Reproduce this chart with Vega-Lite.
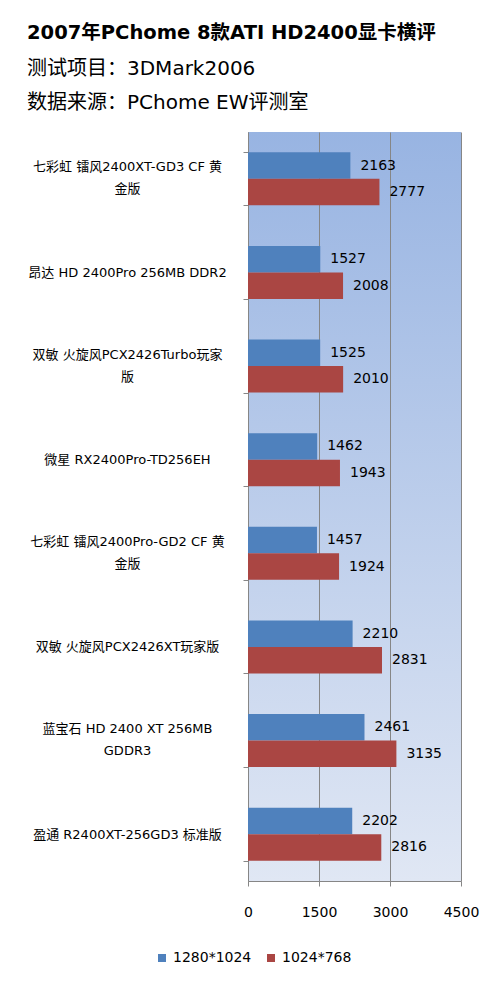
{
  "$schema": "https://vega.github.io/schema/vega-lite/v6.json",
  "autosize": "none",
  "width": 213,
  "height": 749,
  "padding": {"left": 248, "top": 132, "right": 32, "bottom": 106},
  "background": "#ffffff",
  "title": {
    "text": "2007年PChome 8款ATI HD2400显卡横评",
    "subtitle": ["测试项目：3DMark2006", "数据来源：PChome EW评测室"],
    "anchor": "start",
    "frame": "group",
    "dx": -221,
    "offset": 12,
    "font": "DejaVu Sans, Noto Sans CJK SC",
    "fontSize": 19.5,
    "fontWeight": "bold",
    "color": "#000000",
    "subtitleFont": "DejaVu Sans, Noto Sans CJK SC",
    "subtitleFontSize": 20,
    "subtitleColor": "#000000",
    "subtitleLineHeight": 34,
    "subtitlePadding": 16
  },
  "data": {
    "values": [
      {"card": "七彩虹 镭风2400XT-GD3 CF 黄金版", "res": "1280*1024", "score": 2163},
      {"card": "七彩虹 镭风2400XT-GD3 CF 黄金版", "res": "1024*768", "score": 2777},
      {"card": "昂达 HD 2400Pro 256MB DDR2", "res": "1280*1024", "score": 1527},
      {"card": "昂达 HD 2400Pro 256MB DDR2", "res": "1024*768", "score": 2008},
      {"card": "双敏 火旋风PCX2426Turbo玩家版", "res": "1280*1024", "score": 1525},
      {"card": "双敏 火旋风PCX2426Turbo玩家版", "res": "1024*768", "score": 2010},
      {"card": "微星 RX2400Pro-TD256EH", "res": "1280*1024", "score": 1462},
      {"card": "微星 RX2400Pro-TD256EH", "res": "1024*768", "score": 1943},
      {"card": "七彩虹 镭风2400Pro-GD2 CF 黄金版", "res": "1280*1024", "score": 1457},
      {"card": "七彩虹 镭风2400Pro-GD2 CF 黄金版", "res": "1024*768", "score": 1924},
      {"card": "双敏 火旋风PCX2426XT玩家版", "res": "1280*1024", "score": 2210},
      {"card": "双敏 火旋风PCX2426XT玩家版", "res": "1024*768", "score": 2831},
      {"card": "蓝宝石 HD 2400 XT 256MB GDDR3", "res": "1280*1024", "score": 2461},
      {"card": "蓝宝石 HD 2400 XT 256MB GDDR3", "res": "1024*768", "score": 3135},
      {"card": "盈通 R2400XT-256GD3 标准版", "res": "1280*1024", "score": 2202},
      {"card": "盈通 R2400XT-256GD3 标准版", "res": "1024*768", "score": 2816}
    ]
  },
  "encoding": {
    "y": {
      "field": "card",
      "type": "nominal",
      "sort": null,
      "scale": {"paddingInner": 0.434, "paddingOuter": 0.217},
      "axis": {
        "title": null,
        "tickBand": "extent",
        "tickSize": 5,
        "tickColor": "#868686",
        "domainColor": "#868686",
        "labelAlign": "center",
        "labelBaseline": "middle",
        "labelPadding": 116,
        "labelOffset": {
          "condition": {
            "test": "indexof(['七彩虹 镭风2400XT-GD3 CF 黄金版', '双敏 火旋风PCX2426Turbo玩家版', '七彩虹 镭风2400Pro-GD2 CF 黄金版', '蓝宝石 HD 2400 XT 256MB GDDR3'], datum.value) >= 0",
            "value": -12
          },
          "value": 0
        },
        "labelFont": "DejaVu Sans, Noto Sans CJK SC",
        "labelFontSize": 13,
        "labelColor": "#000000",
        "labelLineHeight": 22,
        "labelLimit": 300,
        "labelExpr": "datum.value == '七彩虹 镭风2400XT-GD3 CF 黄金版' ? ['七彩虹 镭风2400XT-GD3 CF 黄', '金版'] : datum.value == '双敏 火旋风PCX2426Turbo玩家版' ? ['双敏 火旋风PCX2426Turbo玩家', '版'] : datum.value == '七彩虹 镭风2400Pro-GD2 CF 黄金版' ? ['七彩虹 镭风2400Pro-GD2 CF 黄', '金版'] : datum.value == '蓝宝石 HD 2400 XT 256MB GDDR3' ? ['蓝宝石 HD 2400 XT 256MB', 'GDDR3'] : datum.value"
      }
    },
    "yOffset": {
      "field": "res",
      "type": "nominal",
      "sort": ["1280*1024", "1024*768"],
      "scale": {"paddingInner": 0, "paddingOuter": 0}
    },
    "x": {
      "field": "score",
      "type": "quantitative",
      "scale": {"domain": [0, 4500], "nice": false},
      "axis": {
        "title": null,
        "values": [0, 1500, 3000, 4500],
        "format": "d",
        "grid": true,
        "gridColor": "#868686",
        "gridOpacity": 1,
        "tickColor": "#868686",
        "tickSize": 5,
        "domainColor": "#868686",
        "labelFlush": false,
        "labelOverlap": false,
        "labelFont": "DejaVu Sans",
        "labelFontSize": 14,
        "labelColor": "#000000",
        "labelPadding": 19
      }
    }
  },
  "layer": [
    {
      "mark": {"type": "bar"},
      "encoding": {
        "color": {
          "field": "res",
          "type": "nominal",
          "sort": ["1280*1024", "1024*768"],
          "scale": {"domain": ["1280*1024", "1024*768"], "range": ["#4f81bd", "#aa4643"]},
          "legend": {
            "title": null,
            "orient": "none",
            "direction": "horizontal",
            "legendX": -93,
            "legendY": 819,
            "symbolType": "square",
            "symbolSize": 64,
            "symbolStrokeWidth": 0,
            "labelFont": "DejaVu Sans",
            "labelFontSize": 14,
            "labelColor": "#000000",
            "columnPadding": 12,
            "labelOffset": 4
          }
        }
      }
    },
    {
      "mark": {"type": "text", "align": "left", "baseline": "middle", "dx": 10, "font": "DejaVu Sans", "fontSize": 14, "color": "#000000"},
      "encoding": {
        "text": {"field": "score", "type": "quantitative", "format": "d"}
      }
    }
  ],
  "config": {
    "view": {
      "stroke": null,
      "fill": {
        "gradient": "linear",
        "x1": 0, "y1": 0, "x2": 0, "y2": 1,
        "stops": [
          {"offset": 0, "color": "#98b4e2"},
          {"offset": 1, "color": "#e0e7f4"}
        ]
      }
    }
  }
}
